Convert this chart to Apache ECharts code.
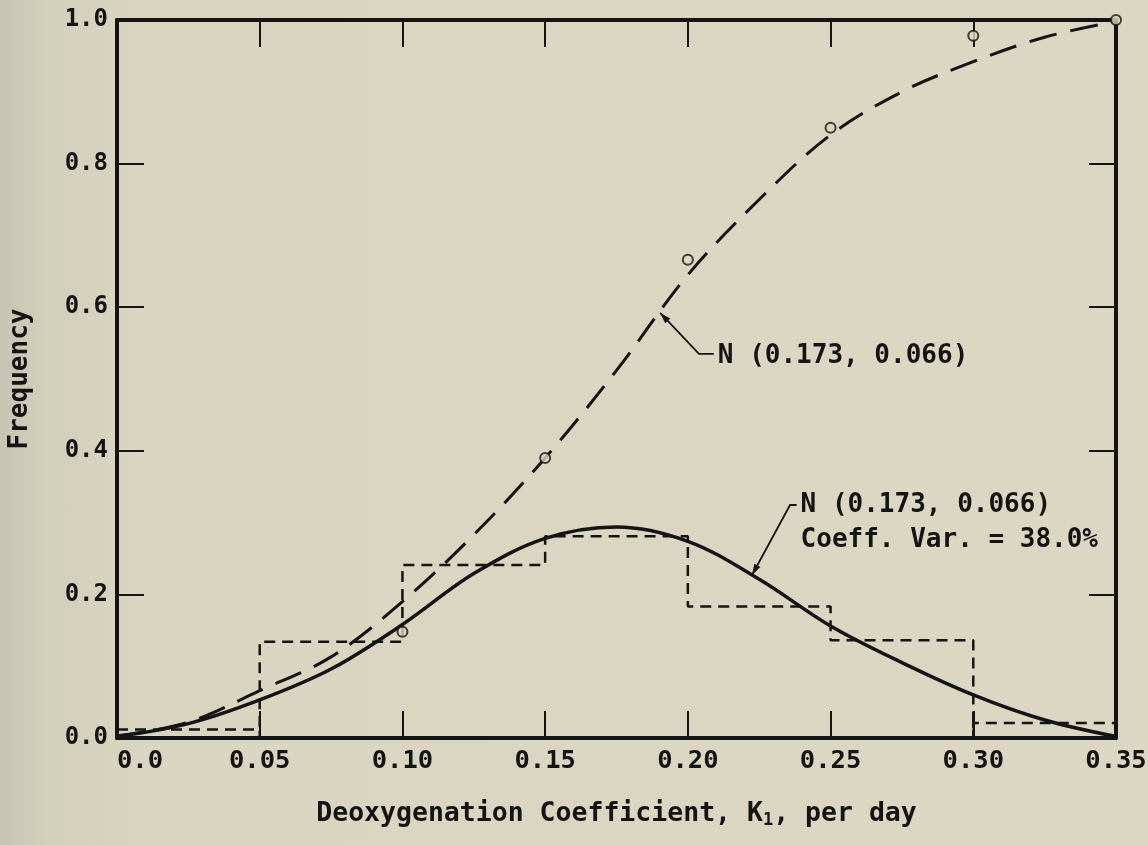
<!DOCTYPE html>
<html>
<head>
<meta charset="utf-8">
<script src="https://cdn.jsdelivr.net/npm/echarts@6/dist/echarts.min.js"></script>
<style>
html, body { margin: 0; padding: 0; }
body { background: linear-gradient(to right, #c4c6b3 0%, #d1d0bb 4%, #d9d5c1 12%, #dbd7c3 100%); }
#c { width: 1148px; height: 845px; }
</style>
</head>
<body>
<div id="c"></div>
<script>
// ---------- data ----------
const binEdges = [0.0, 0.05, 0.10, 0.15, 0.20, 0.25, 0.30, 0.35];
const binFreq  = [0.012, 0.134, 0.241, 0.281, 0.183, 0.136, 0.021];
const closedEdges = [0.05, 0.30];          // bin edges drawn down to the axis

const curveX  = [0.0, 0.025, 0.05, 0.075, 0.10, 0.125, 0.15, 0.175, 0.20, 0.225, 0.25, 0.275, 0.30, 0.325, 0.35];
const pdfFit  = [0.002, 0.020, 0.053, 0.096, 0.158, 0.229, 0.278, 0.294, 0.274, 0.221, 0.156, 0.105, 0.060, 0.025, 0.002];
const cdfFit  = [0.003, 0.022, 0.066, 0.113, 0.190, 0.283, 0.390, 0.512, 0.645, 0.750, 0.840, 0.900, 0.942, 0.976, 0.998];

const cumX   = [0.10, 0.15, 0.20, 0.25, 0.30, 0.35];
const cumObs = [0.148, 0.390, 0.666, 0.850, 0.978, 1.000];

const xTickLabels = ['0.0', '0.05', '0.10', '0.15', '0.20', '0.25', '0.30', '0.35'];
const yTickLabels = ['0.0', '0.2', '0.4', '0.6', '0.8', '1.0'];

const xTitleParts = ['Deoxygenation Coefficient, K', '1', ', per day'];
const yTitle = 'Frequency';
const cdfNoteText = ['N (0.173, 0.066)'];
const pdfNoteText = ['N (0.173, 0.066)', 'Coeff. Var. = 38.0%'];

// ---------- build series data ----------
const histPts = [];
for (let i = 0; i < binFreq.length; i++) {
  histPts.push([binEdges[i], binFreq[i]], [binEdges[i + 1], binFreq[i]]);
  if (closedEdges.includes(binEdges[i + 1])) histPts.push([binEdges[i + 1], 0]);
}
const pdfData = curveX.map((x, i) => [x, pdfFit[i]]);
const cdfData = curveX.map((x, i) => [x, cdfFit[i]]);
const obsData = cumX.map((x, i) => [x, cumObs[i]]);

const INK = '#141414';
const BG = '#dbd7c3';
const FONT = '"DejaVu Sans Mono", "Liberation Mono", monospace';

const axisLine = { show: true, onZero: false, lineStyle: { color: INK, width: 4 } };
const tickIn = { show: true, inside: true, length: 27, lineStyle: { color: INK, width: 2 } };

const chart = echarts.init(document.getElementById('c'), null, { renderer: 'canvas' });
chart.setOption({
  backgroundColor: 'transparent',
  animation: false,
  grid: { left: 117, right: 32, top: 20, bottom: 107, containLabel: false, outerBoundsMode: 'none' },
  xAxis: [
    {
      type: 'value', min: 0, max: 0.35, interval: 0.05, position: 'bottom',
      axisLine, axisTick: tickIn, splitLine: { show: false },
      axisLabel: {
        margin: 10, color: INK, fontFamily: FONT, fontWeight: 'bold', fontSize: 25.5,
        alignMinLabel: 'left',
        formatter: v => xTickLabels[Math.round(v / 0.05)]
      },
      name: '{a|' + xTitleParts[0] + '}{s|' + xTitleParts[1] + '}{a|' + xTitleParts[2] + '}',
      nameLocation: 'middle', nameGap: 62,
      nameTextStyle: {
        rich: {
          a: { fontFamily: FONT, fontWeight: 'bold', fontSize: 26.5, color: INK },
          s: { fontFamily: FONT, fontWeight: 'bold', fontSize: 17, color: INK, padding: [12, 0, 0, 0] }
        }
      }
    },
    {
      type: 'value', min: 0, max: 0.35, interval: 0.05, position: 'top',
      axisLine, axisTick: tickIn, axisLabel: { show: false }, splitLine: { show: false }
    }
  ],
  yAxis: [
    {
      type: 'value', min: 0, max: 1, interval: 0.2, position: 'left',
      axisLine, axisTick: tickIn, splitLine: { show: false },
      axisLabel: {
        margin: 9, color: INK, fontFamily: FONT, fontWeight: 'bold', fontSize: 24,
        formatter: v => yTickLabels[Math.round(v / 0.2)]
      },
      name: yTitle, nameLocation: 'middle', nameGap: 84, nameRotate: 90,
      nameTextStyle: { fontFamily: FONT, fontWeight: 'bold', fontSize: 26, color: INK }
    },
    {
      type: 'value', min: 0, max: 1, interval: 0.2, position: 'right',
      axisLine, axisTick: tickIn, axisLabel: { show: false }, splitLine: { show: false }
    }
  ],
  series: [
    {
      name: 'histogram', type: 'line', data: histPts, symbol: 'none', z: 2,
      lineStyle: { color: INK, width: 2.5, type: [11, 7] }
    },
    {
      name: 'pdf', type: 'line', data: pdfData, symbol: 'none', smooth: 0.35, z: 3,
      lineStyle: { color: INK, width: 3.5 }
    },
    {
      name: 'cdf', type: 'line', data: cdfData, symbol: 'none', smooth: 0.35, z: 3,
      lineStyle: { color: INK, width: 3, type: [28, 14] }
    },
    {
      name: 'observed', type: 'scatter', data: obsData, symbol: 'circle', symbolSize: 10, z: 5,
      itemStyle: { color: BG, borderColor: INK, borderWidth: 2 }
    }
  ]
});

// ---------- annotations (positioned in data space) ----------
const notes = [
  { tip: [0.1903, 0.592], elbow: [0.2039, 0.535], textAt: [0.2105, 0.531], lines: cdfNoteText },
  { tip: [0.2225, 0.227], elbow: [0.2358, 0.3245], textAt: [0.2395, 0.3245], lines: pdfNoteText }
];
const P = d => chart.convertToPixel({ xAxisIndex: 0, yAxisIndex: 0 }, d);
const gfx = [];
notes.forEach(n => {
  const t = P(n.tip), e = P(n.elbow), s = P(n.textAt);
  gfx.push({ type: 'polyline', z: 10, shape: { points: [[s[0] - 4, e[1]], e, t] }, style: { stroke: INK, lineWidth: 1.8, fill: null } });
  const dx = t[0] - e[0], dy = t[1] - e[1], L = Math.hypot(dx, dy), ux = dx / L, uy = dy / L;
  const bx = t[0] - ux * 11, by = t[1] - uy * 11;
  gfx.push({ type: 'polygon', z: 10, shape: { points: [t, [bx - uy * 3.5, by + ux * 3.5], [bx + uy * 3.5, by - ux * 3.5]] }, style: { fill: INK } });
  n.lines.forEach((ln, k) => {
    gfx.push({ type: 'text', z: 10, x: s[0], y: s[1] + k * 35,
      style: { text: ln, font: 'bold 26px ' + FONT, fill: INK, verticalAlign: 'middle', align: 'left' } });
  });
});
chart.setOption({ graphic: gfx });
</script>
</body>
</html>
